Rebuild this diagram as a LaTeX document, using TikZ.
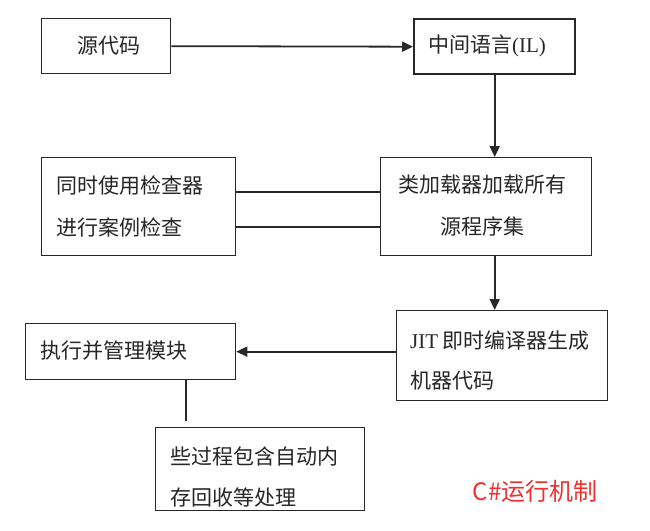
\documentclass[tikz,border=0pt]{standalone}
\usepackage{fontspec}
\setmainfont{Noto Sans CJK SC}
\newfontfamily\lat{Liberation Serif}
\usetikzlibrary{arrows.meta}
\definecolor{linegray}{RGB}{40,40,40}
\definecolor{titlered}{RGB}{238,50,50}
\begin{document}
\begin{tikzpicture}[x=1pt,y=-1pt,
  box/.style={draw=linegray, line width=1.3pt, rectangle, inner sep=0pt, anchor=north west},
  lbl/.style={font=\fontsize{21}{42}\selectfont, text=black!85, inner sep=0pt},
  arr/.style={draw=linegray, line width=1.8pt, -{Triangle[length=11pt,width=10pt]}},
  ln/.style={draw=linegray, line width=1.4pt}]
\useasboundingbox[fill=white] (0,0) rectangle (650,530);
% boxes
\node[box, minimum width=129pt, minimum height=55pt] (src) at (41,18) {};
\node[box, line width=2.4pt, minimum width=161pt, minimum height=55pt] (il) at (413,18) {};
\node[box, minimum width=194pt, minimum height=98pt] (chk) at (41,157) {};
\node[box, minimum width=211pt, minimum height=98pt] (cls) at (380,157) {};
\node[box, minimum width=211pt, minimum height=90pt] (jit) at (396,310) {};
\node[box, minimum width=210pt, minimum height=56pt] (exe) at (25,323) {};
\node[box, minimum width=209pt, minimum height=83pt] (gc) at (155,427) {};
% texts
\node[lbl] (srct) at (109,46) {源代码};
\node[lbl] (ilt) at (487,46) {中间语言{\lat(IL)}};
\node[lbl, anchor=west, align=left] (chkt) at (56,206) {同时使用检查器\\进行案例检查};
\node[lbl, align=center] (clst) at (482,206) {类加载器加载所有\\源程序集};
\node[lbl, anchor=west, align=left, font=\fontsize{21}{40}\selectfont] (jitt) at (410,360) {{\lat JIT} 即时编译器生成\\机器代码};
\node[lbl, anchor=west] (exet) at (40,351) {执行并管理模块};
\node[lbl, anchor=west, align=left, font=\fontsize{21}{41}\selectfont] (gct) at (170,477) {些过程包含自动内\\存回收等处理};
\node[font=\fontsize{24}{28}\selectfont, text=titlered, inner sep=0pt] (title) at (535,491) {C\#运行机制};
% connectors
\draw[arr] (src.east) -- (il.west);
\draw[arr] (il.south) -- (il.south |- cls.north);
\draw[ln] (chk.east |- 0,192) -- (cls.west |- 0,192);
\draw[ln] (chk.east |- 0,227) -- (cls.west |- 0,227);
\draw[arr] (cls.south -| il.south) -- (jit.north -| il.south);
\draw[arr] (jit.west |- exe.east) -- (exe.east);
\coordinate (gcend) at (186,421);
\draw[ln, line width=1.8pt] (exe.south -| gcend) -- (gcend);
\end{tikzpicture}
\end{document}
